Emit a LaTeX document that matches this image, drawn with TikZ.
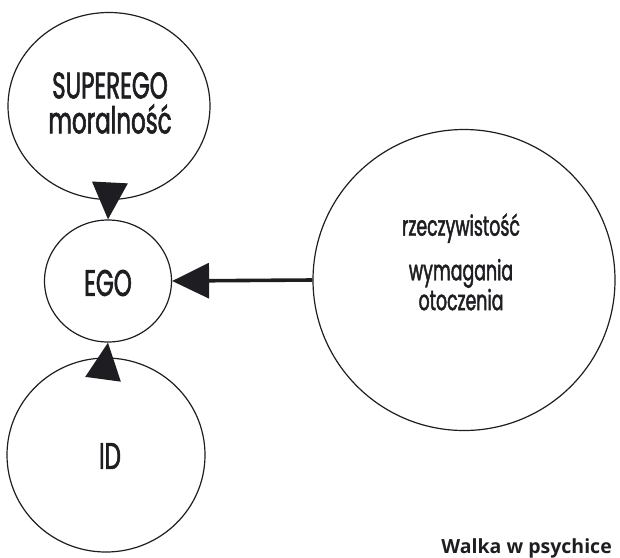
\documentclass[tikz,border=0pt]{standalone}
\usepackage{fontspec}
\newfontfamily\psychefont[FakeStretch=0.62,FakeBold=1.6]{Poppins}
\newfontfamily\captionfont{Open Sans}
\usetikzlibrary{arrows.meta,shapes.geometric}

\definecolor{ink}{HTML}{1E1E22}

\tikzset{
  bubble/.style={draw=ink, line width=1.2pt, ellipse, inner sep=0pt},
  bigtext/.style={font=\psychefont\fontsize{37}{35}\selectfont, text=ink, align=center},
  smalltext/.style={font=\psychefont\fontsize{28}{22}\selectfont, text=ink, align=center},
  pull/.style={-{Triangle[length=37pt,width=35pt]}, line width=3.6pt, draw=ink, fill=ink}
}

\begin{document}
\begin{tikzpicture}[x=1pt,y=-1pt]
    \useasboundingbox (0,0) rectangle (620,557);

    % Superego
    \node[bubble, minimum width=202pt, minimum height=187pt] (superego) at (109,106) {};
    \node[bigtext] (superegotxt) at (110,103) {SUPEREGO\\moralność};

    % Ego
    \node[bubble, minimum width=127pt, minimum height=122pt] (ego) at (108,281) {};
    \node[bigtext] (egotxt) at (108,283) {EGO};

    % Id
    \node[bubble, minimum width=198pt, minimum height=194pt] (id) at (106,455) {};
    \node[bigtext] (idtxt) at (110,456) {ID};

    % Rzeczywistosc
    \node[bubble, minimum width=302pt, minimum height=301pt] (reality) at (464,280) {};
    \node[smalltext] (realitytxt) at (461,262) {rzeczywistość\\[15pt]wymagania\\otoczenia};

    % Strzalki
    \draw[pull] (superego.south) -- (ego.north);
    \draw[pull] (id.north) -- (ego.south);
    \draw[pull] (reality.west) -- (ego.east);

    % Podpis
    \node[font=\captionfont\bfseries\fontsize{19.5}{21}\selectfont, text=ink, inner sep=0pt, anchor=base east] (caption) at (612,553) {Walka w psychice};

\end{tikzpicture}
\end{document}
